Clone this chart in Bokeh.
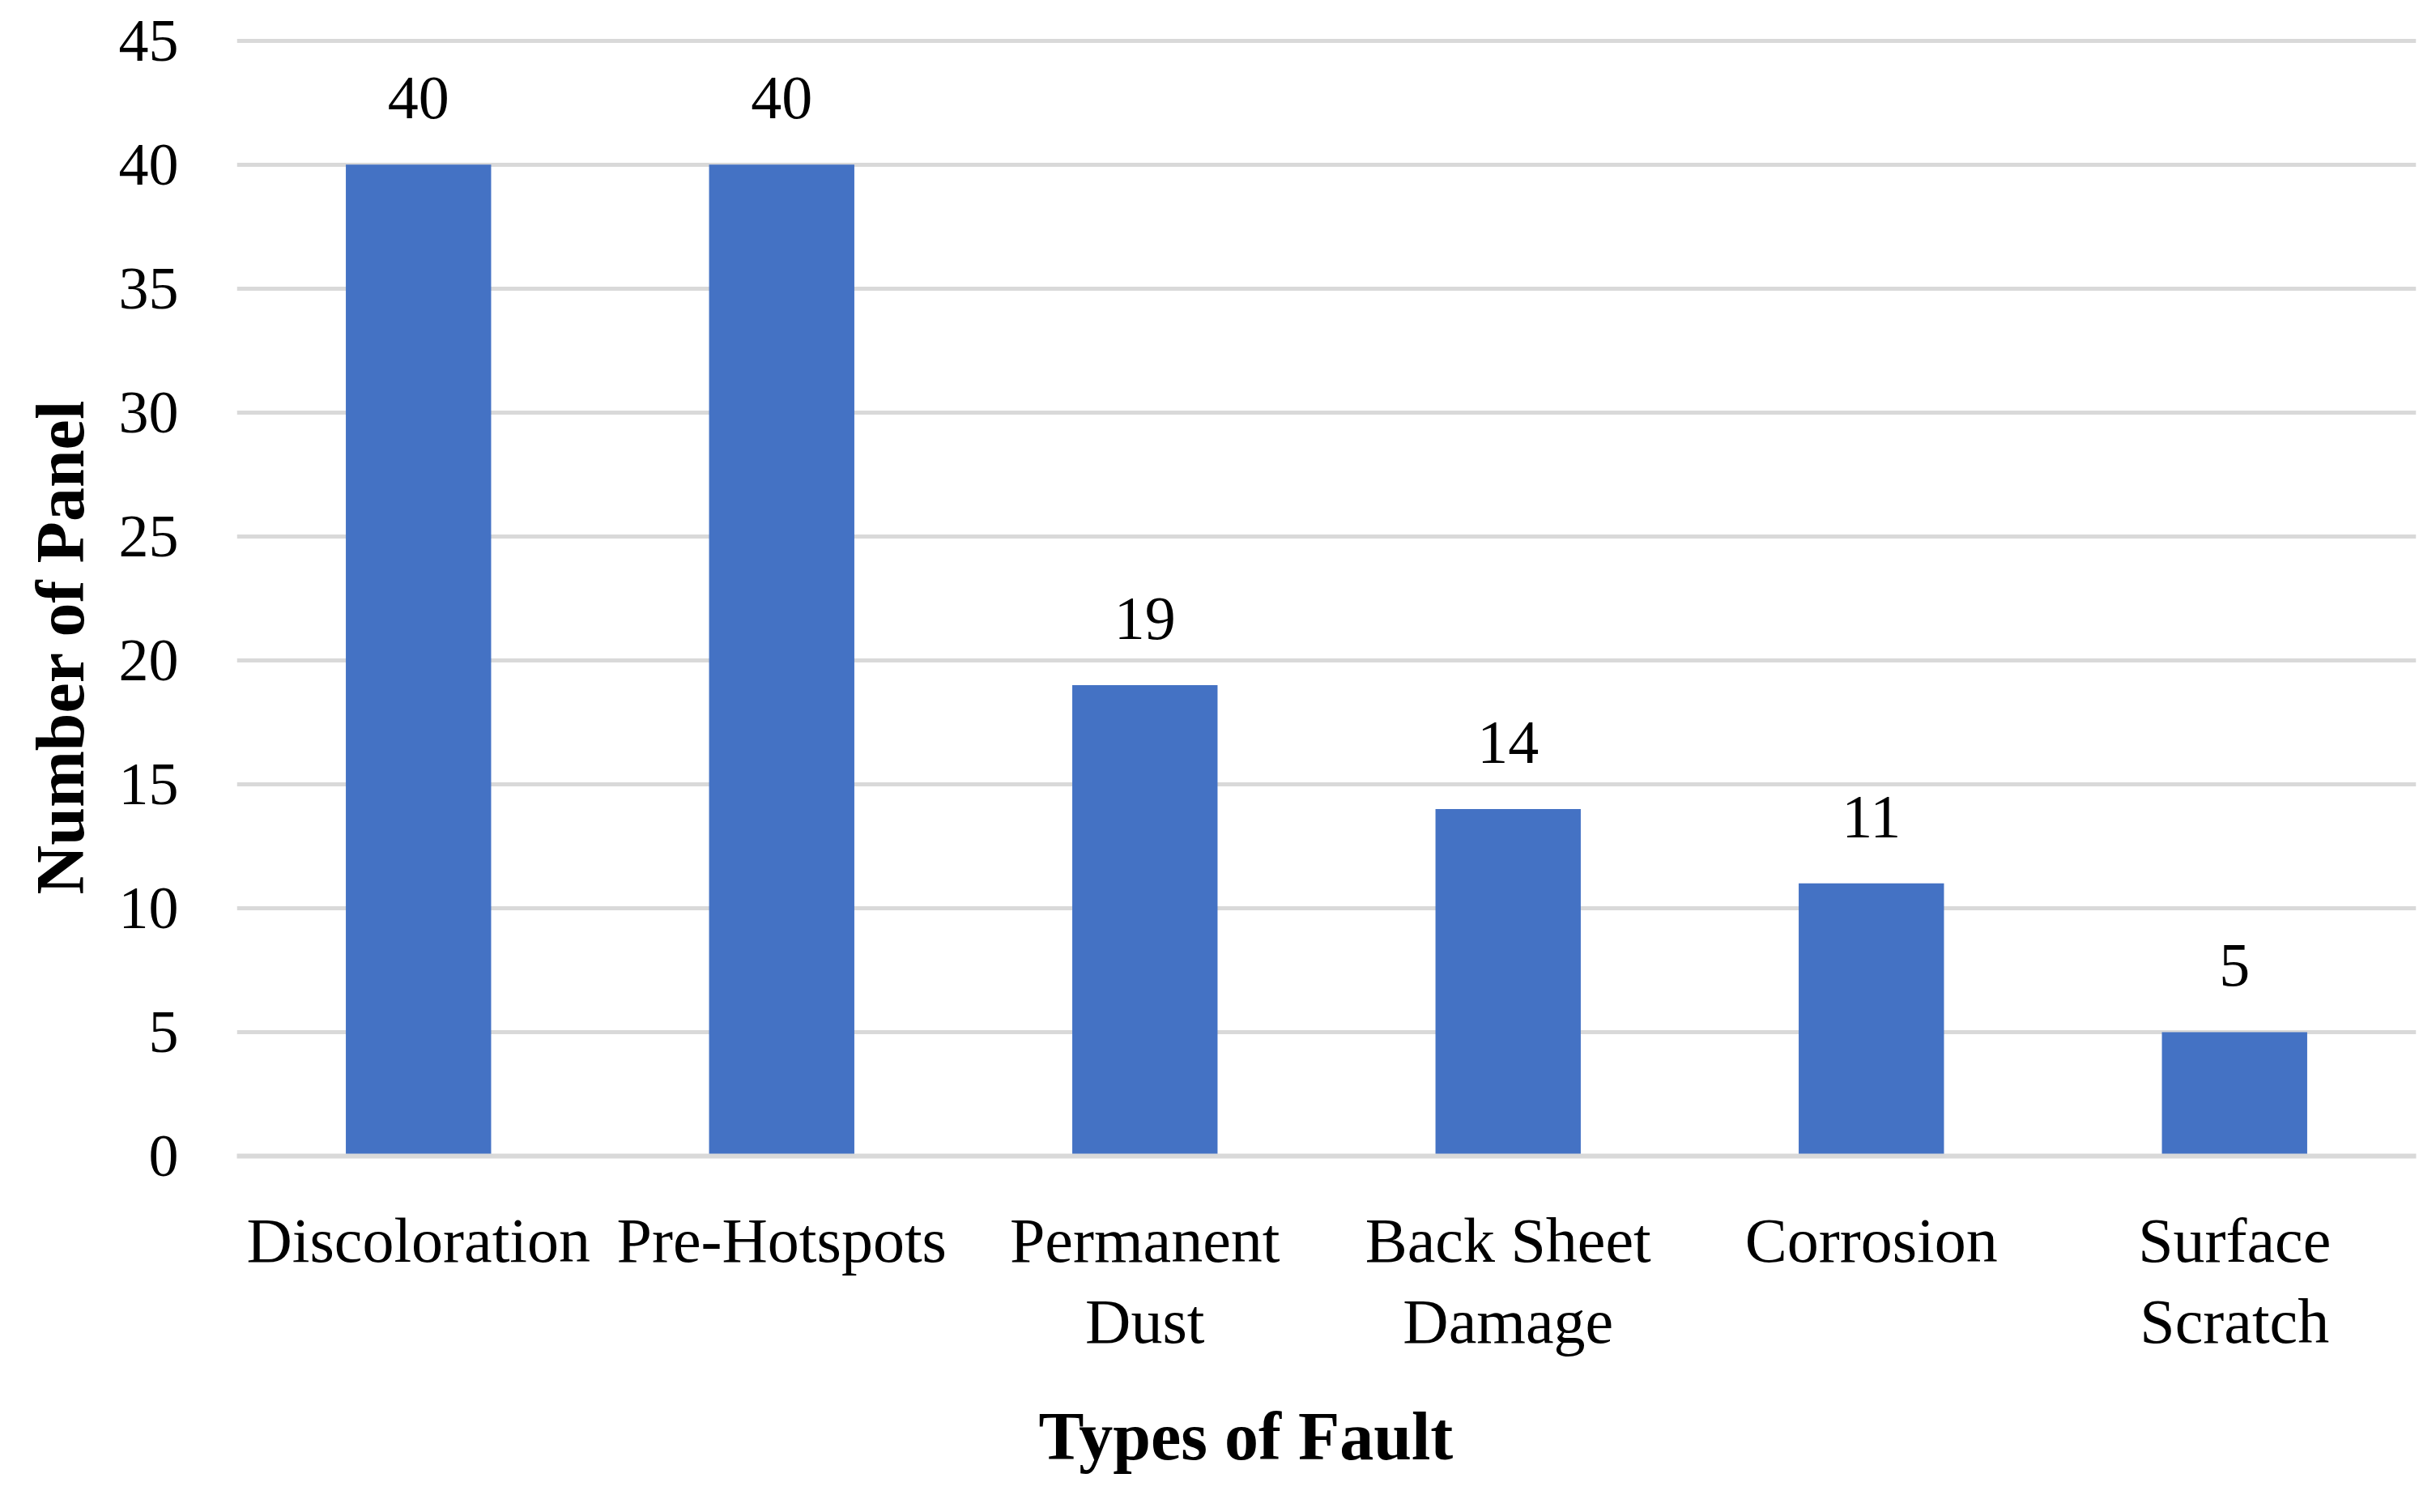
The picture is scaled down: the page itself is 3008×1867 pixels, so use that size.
from bokeh.plotting import figure
from bokeh.models import ColumnDataSource, LabelSet, Title, Range1d, FixedTicker
from bokeh.embed import file_html
from bokeh.resources import INLINE

categories = ["Discoloration", "Pre-Hotspots", "Permanent\nDust", "Back Sheet\nDamage", "Corrosion", "Surface\nScratch"]
counts = [40, 40, 19, 14, 11, 5]
y_ticks = [0, 5, 10, 15, 20, 25, 30, 35, 40, 45]
x_title = "Types of Fault"
y_title = "Number of Panel"

FONT = "Liberation Serif"
src = ColumnDataSource(dict(cat=categories, val=counts, lbl=[str(v) for v in counts]))

p = figure(x_range=categories, y_range=Range1d(0, 45.15), width=3000, height=1866,
           output_backend="svg", toolbar_location=None,
           min_border_left=292, min_border_right=17, min_border_top=45, min_border_bottom=437)
p.outline_line_color = None
p.background_fill_color = "white"

p.xgrid.grid_line_color = None
p.ygrid.grid_line_color = "#d9d9d9"
p.ygrid.grid_line_width = 5
p.ygrid.ticker = FixedTicker(ticks=y_ticks[1:])

p.vbar(x="cat", top="val", width=0.4, source=src, fill_color="#4472C4", line_color=None)

labels = LabelSet(x="cat", y="val", text="lbl", source=src, y_offset=57,
                  text_align="center", text_baseline="alphabetic",
                  text_font=FONT, text_font_size="76px", text_color="#000000")
p.add_layout(labels)

p.yaxis.ticker = FixedTicker(ticks=y_ticks)
p.yaxis.axis_line_color = None
p.yaxis.major_tick_line_color = None
p.yaxis.minor_tick_line_color = None
p.yaxis.major_label_text_font = FONT
p.yaxis.major_label_text_font_size = "74px"
p.yaxis.major_label_text_color = "#000000"
p.yaxis.major_label_standoff = 66

p.xaxis.axis_line_color = "#d9d9d9"
p.xaxis.axis_line_width = 6
p.xaxis.major_tick_line_color = None
p.xaxis.minor_tick_line_color = None
p.xaxis.major_label_text_font = FONT
p.xaxis.major_label_text_font_size = "78px"
p.xaxis.major_label_text_line_height = 1.15
p.xaxis.major_label_text_color = "#000000"
p.xaxis.major_label_standoff = 54

xt = Title(text=x_title, align="left", offset=990, standoff=94,
           text_font=FONT, text_font_style="bold", text_font_size="84px", text_color="#000000")
yt = Title(text=y_title, align="left", offset=323, standoff=46,
           text_font=FONT, text_font_style="bold", text_font_size="84px", text_color="#000000")
p.add_layout(xt, "below")
p.add_layout(yt, "left")

open("out.html", "w").write(file_html(p, INLINE))
